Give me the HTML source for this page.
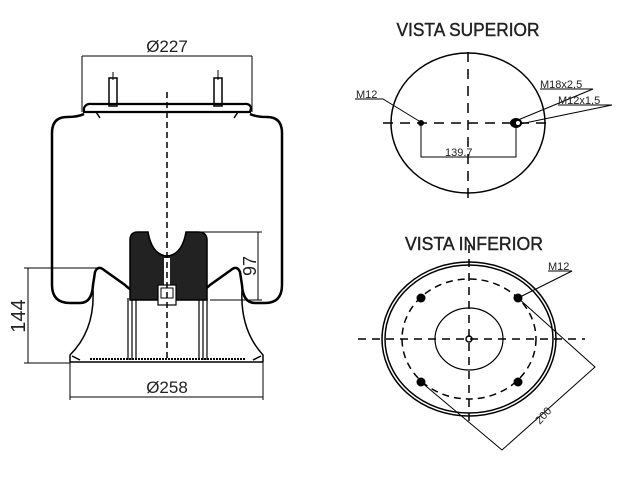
<!DOCTYPE html>
<html><head><meta charset="utf-8"><style>html,body{margin:0;padding:0;background:#fff}svg{display:block}</style></head>
<body>
<svg width="640" height="480" viewBox="0 0 640 480" xmlns="http://www.w3.org/2000/svg" font-family="Liberation Sans, sans-serif">
<rect width="640" height="480" fill="#fff"/>
<g fill="none" stroke="#000">
<path d="M82 56H252M82 56V112M252 56V112" stroke-width="1"/>
<path d="M84 108 Q86 103 92 104 L244 104 Q250 103 251 108 L250 112 H84 Z" stroke-width="2.2"/>
<path d="M96 112 L100 118 M238 112 L234 118" stroke-width="1.5"/>
<rect x="109" y="78" width="8" height="28" stroke-width="1.5"/>
<rect x="214" y="78" width="8" height="28" stroke-width="1.5"/>
<path d="M113 72V80M218 70V80" stroke-width="1"/>
<path d="M84 114 Q78 117 67 117 Q52 117 52 133 V285 Q52 303 70 303 H80 Q92 303 93 285 L95 272 Q98 265 104 270 L125 285 Q132 292 140 293 M195 293 Q203 292 210 285 L231 270 Q237 265 240 272 L242 285 Q243 303 255 303 H265 Q282 303 282 285 V133 Q282 117 267 117 Q256 117 250 114" stroke-width="2.5"/>
<path d="M93 290 Q95 330 70 355 L70 362 M242 290 Q240 330 263 355 L263 362" stroke-width="1.5"/>
<path d="M70 362 H263 M72 356 L80 360 M261 356 L253 360" stroke-width="1.5"/>
<path d="M90 359 H245" stroke-width="2" stroke-dasharray="2 1"/>
<path d="M128 298V360M132 298V360M136 298V360M199 298V360M203 298V360M207 298V360" stroke-width="1.2"/>
<path d="M130 300 V240 Q130 232 138 232 H148 Q152 255 167 256 Q182 255 186 232 H198 Q207 232 207 240 V300 Z" fill="#222" stroke-width="1.5"/>
<rect x="164" y="258" width="6" height="38" fill="#fff" stroke="none"/>
<rect x="158" y="285" width="18" height="20" fill="#fff" stroke-width="1.2"/>
<rect x="161" y="288" width="12" height="10" stroke-width="1"/>
<path d="M167 92V362" stroke-width="1.5" stroke-dasharray="6 4"/>
<path d="M186 232H262M210 300H262M258 232V300" stroke-width="1"/>
<path d="M24 268H100M24 363H70M28 268V363" stroke-width="1"/>
<path d="M70 362V400M263 362V400M70 397H263" stroke-width="1"/>

<ellipse cx="468" cy="123" rx="77" ry="70" stroke-width="1.5"/>
<path d="M383 123H548M468 52V198" stroke-width="1.5" stroke-dasharray="10 7"/>
<path d="M421 123V157H516V123" stroke-width="1"/>
<path d="M355 99H383L419 121M540 89H593L518 120M558 105H612L520 124" stroke-width="1"/>
<ellipse cx="469" cy="339" rx="87" ry="77" stroke-width="1.5"/>
<ellipse cx="469" cy="339" rx="84" ry="74" stroke-width="1.5"/>
<ellipse cx="469" cy="339" rx="67" ry="60" stroke-width="1.5" stroke-dasharray="7 5"/>
<ellipse cx="469" cy="339" rx="34" ry="31" stroke-width="1.2"/>
<circle cx="469" cy="339" r="3" stroke-width="1.5"/>
<path d="M358 339H585M469 245V425" stroke-width="1.5" stroke-dasharray="8 6"/>
<path d="M548 271H572L520 297M518 298L595 367L502 450L421 382" stroke-width="1"/>
</g>
<g fill="#000">
<circle cx="421" cy="123" r="3"/>
<ellipse cx="516" cy="123" rx="6" ry="5"/>
<circle cx="518" cy="123" r="2" fill="#fff"/>
<circle cx="421" cy="298" r="4.5"/><circle cx="518" cy="298" r="4.5"/>
<circle cx="421" cy="382" r="4.5"/><circle cx="518" cy="382" r="4.5"/>
</g>
<g fill="#222">
<text x="167" y="52" font-size="17" text-anchor="middle">Ø227</text>
<text x="167" y="393" font-size="17" text-anchor="middle">Ø258</text>
<text transform="translate(256 266) rotate(-90)" font-size="18" text-anchor="middle">97</text>
<text transform="translate(25 316) rotate(-90)" font-size="20" text-anchor="middle">144</text>
<text x="468" y="36" font-size="18" text-anchor="middle" textLength="143" lengthAdjust="spacingAndGlyphs" stroke="#222" stroke-width="0.4">VISTA SUPERIOR</text>
<text x="474" y="250" font-size="18" text-anchor="middle" textLength="138" lengthAdjust="spacingAndGlyphs" stroke="#222" stroke-width="0.4">VISTA INFERIOR</text>
<text x="356" y="98" font-size="11">M12</text>
<text x="540" y="88" font-size="11">M18x2,5</text>
<text x="558" y="104" font-size="11">M12x1,5</text>
<text x="445" y="156" font-size="11">139,7</text>
<text x="548" y="270" font-size="11">M12</text>
<text transform="translate(546 418) rotate(-48)" font-size="11" text-anchor="middle">200</text>
</g>
</svg>
</body></html>
